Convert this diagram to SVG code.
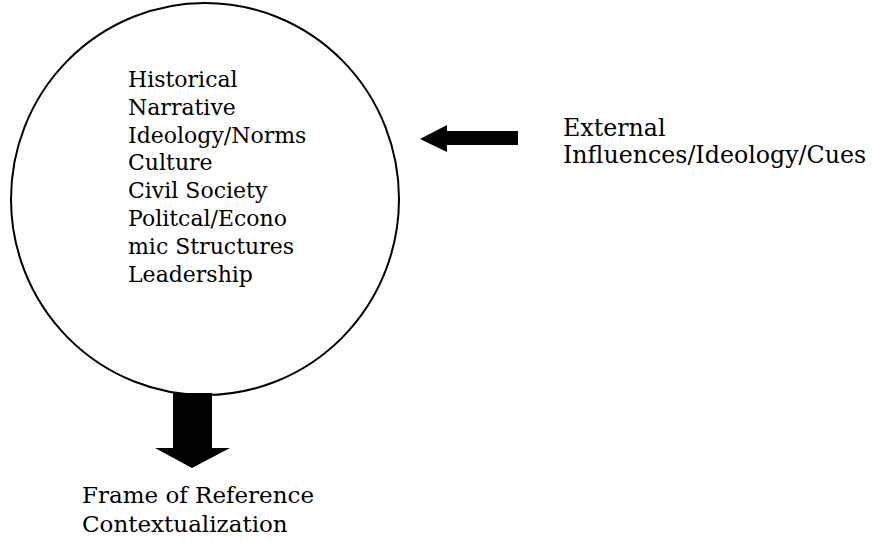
<svg xmlns="http://www.w3.org/2000/svg" width="875" height="542" viewBox="0 0 875 542">
<style>
text{font-family:"DejaVu Serif","Liberation Serif",serif;font-size:22px;fill:#000}
.big{font-size:23px}
.ext{font-size:23.7px}
</style>
<rect width="875" height="542" fill="#fff"/>
<g id="circle-node">
<ellipse cx="205" cy="199" rx="194" ry="196" fill="#fff" stroke="#000" stroke-width="2"/>
<text x="128" y="87">Historical</text>
<text x="128" y="115">Narrative</text>
<text x="128" y="143">Ideology/Norms</text>
<text x="128" y="170">Culture</text>
<text x="128" y="198">Civil Society</text>
<text x="128" y="226">Politcal/Econo</text>
<text x="128" y="254">mic Structures</text>
<text x="128" y="282">Leadership</text>
</g>
<g id="external-node">
<text class="ext" x="563" y="136">External</text>
<text class="ext" x="563" y="163">Influences/Ideology/Cues</text>
</g>
<g id="frame-node">
<text class="big" x="82" y="503">Frame of Reference</text>
<text class="big" x="82" y="532">Contextualization</text>
</g>
<g id="connectors" fill="#000">
<polygon points="420,139 447,125 447,131 518,131 518,145 447,145 447,152"/>
<polygon points="173,393 212,393 212,448 230,448 192,468 155,448 173,448"/>
</g>
</svg>
